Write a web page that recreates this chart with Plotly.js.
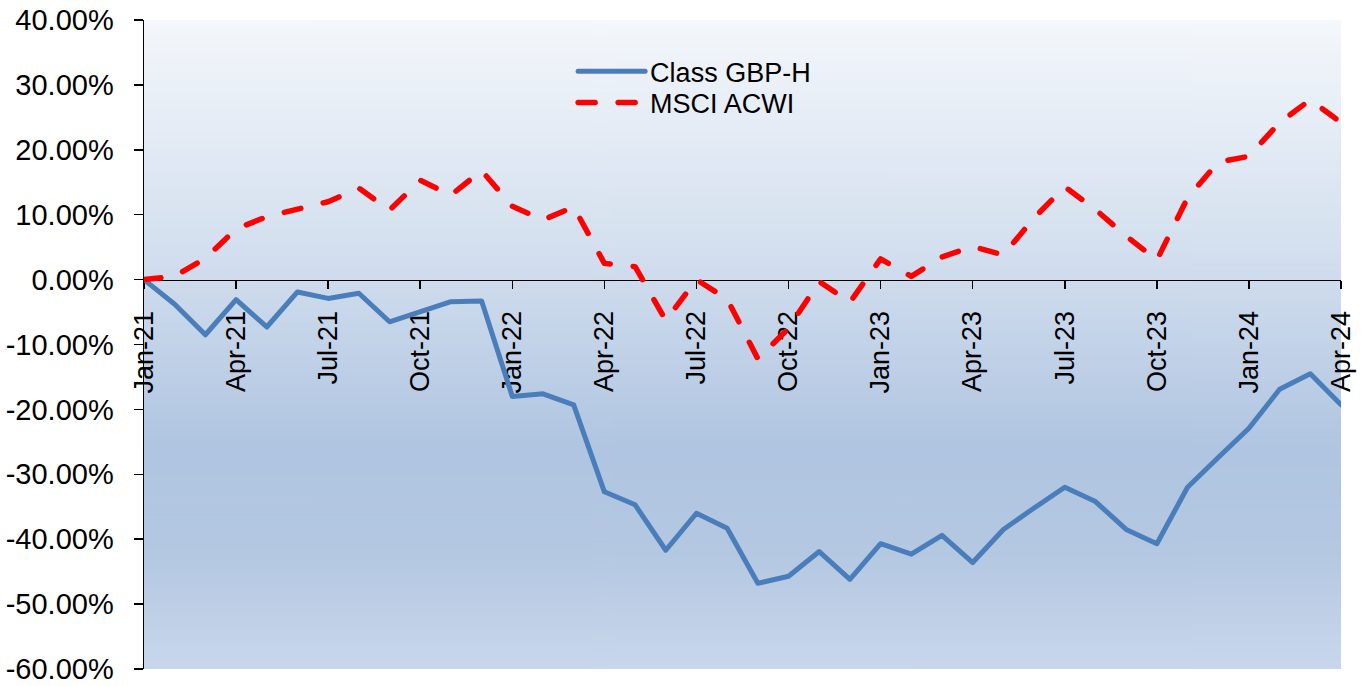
<!DOCTYPE html>
<html>
<head>
<meta charset="utf-8">
<script src="https://cdn.plot.ly/plotly-3.0.1.min.js"></script>
<style>
  html, body { margin: 0; padding: 0; background: #ffffff; }
  #chart { width: 1371px; height: 686px; }
  /* rounded dash ends, as in the original spreadsheet chart */
  #chart .js-line { stroke-linecap: round; stroke-linejoin: round; }
</style>
</head>
<body>
<div id="chart"></div>
<script>
// Monthly cumulative performance, Jan-21 to Apr-24 (percent)
const months = [
  'Jan-21','Feb-21','Mar-21','Apr-21','May-21','Jun-21','Jul-21','Aug-21','Sep-21','Oct-21','Nov-21','Dec-21',
  'Jan-22','Feb-22','Mar-22','Apr-22','May-22','Jun-22','Jul-22','Aug-22','Sep-22','Oct-22','Nov-22','Dec-22',
  'Jan-23','Feb-23','Mar-23','Apr-23','May-23','Jun-23','Jul-23','Aug-23','Sep-23','Oct-23','Nov-23','Dec-23',
  'Jan-24','Feb-24','Mar-24','Apr-24'
];

const classGbpH = [
  0, -3.8, -8.5, -3.1, -7.3, -1.9, -2.9, -2.1, -6.5, -4.9, -3.4, -3.3,
  -18.0, -17.6, -19.3, -32.7, -34.7, -41.7, -36.0, -38.3, -46.8, -45.7, -41.9, -46.2,
  -40.7, -42.3, -39.4, -43.6, -38.5, -35.2, -32.0, -34.2, -38.5, -40.7, -32.0, -27.4,
  -22.9, -16.9, -14.5, -19.3
];

const msciAcwi = [
  0, 0.5, 3.3, 7.8, 9.7, 10.9, 12.0, 14.1, 10.7, 15.3, 13.0, 16.8,
  11.3, 9.2, 11.2, 2.5, 2.0, -6.3, 0.0, -3.0, -12.2, -7.5, -0.3, -3.5,
  3.2, 0.5, 3.5, 5.1, 3.8, 9.5, 14.3, 10.8, 6.7, 3.0, 12.6, 18.1,
  19.0, 24.2, 27.7, 24.2
];

// month positions on the time axis, with quarterly labels
const monthIndex = months.map((m, i) => i);
const quarterVals = monthIndex.filter(i => i % 3 === 0);
const quarterTicks = quarterVals.map(i => months[i]);

// value axis ticks (plain hyphen for negatives)
const yTickVals = [-60, -50, -40, -30, -20, -10, 0, 10, 20, 30, 40];
const yTickText = ['-60.00%', '-50.00%', '-40.00%', '-30.00%', '-20.00%', '-10.00%',
                   '0.00%', '10.00%', '20.00%', '30.00%', '40.00%'];

const seriesNames = ['Class GBP-H', 'MSCI ACWI'];

// vertical gradient for the plot area
function gradientImage() {
  const c = document.createElement('canvas');
  c.width = 4; c.height = 400;
  const g = c.getContext('2d');
  const grad = g.createLinearGradient(0, 0, 0, 400);
  grad.addColorStop(0.00, '#f4f7fb');
  grad.addColorStop(0.35, '#d4e0ef');
  grad.addColorStop(0.66, '#b0c5e1');
  grad.addColorStop(0.82, '#b4c8e2');
  grad.addColorStop(1.00, '#c8d7eb');
  g.fillStyle = grad;
  g.fillRect(0, 0, 4, 400);
  return c.toDataURL('image/png');
}

const font = 'Liberation Sans, Arial, sans-serif';
const legendSample = 67;

const traces = [
  {
    x: monthIndex, y: classGbpH, name: seriesNames[0],
    text: months, hoverinfo: 'text+y',
    type: 'scatter', mode: 'lines',
    line: { color: '#4a7ebb', width: 5 },
    legend: 'legend'
  },
  {
    x: monthIndex, y: msciAcwi, name: seriesNames[1],
    text: months, hoverinfo: 'text+y',
    type: 'scatter', mode: 'lines',
    line: { color: '#ff0000', width: 5.5, dash: '17px,23px' },
    legend: 'legend2'
  }
];

const legendBase = {
  xanchor: 'left', yanchor: 'top',
  bgcolor: 'rgba(0,0,0,0)',
  font: { family: font, size: 27, color: '#000000' },
  itemwidth: legendSample
};

const layout = {
  width: 1371, height: 686,
  margin: { l: 144, r: 30, t: 20, b: 17, pad: 0 },
  paper_bgcolor: '#ffffff',
  plot_bgcolor: 'rgba(0,0,0,0)',
  font: { family: font, color: '#000000', size: 27 },
  showlegend: true,
  legend: Object.assign({ x: 0.3585, y: 0.958 }, legendBase),
  legend2: Object.assign({ x: 0.3585, y: 0.910 }, legendBase),
  images: [{
    source: gradientImage(),
    xref: 'paper', yref: 'paper',
    x: 0, y: 1, sizex: 1, sizey: 1,
    xanchor: 'left', yanchor: 'top',
    sizing: 'stretch', layer: 'below'
  }],
  xaxis: {
    type: 'linear',
    range: [0, months.length - 1],
    anchor: 'free', position: 0.6,
    showline: true, linecolor: '#000000', linewidth: 1.5,
    // long invisible major ticks set the label offset; visible short ticks come from minor
    ticks: 'outside', ticklen: 19, tickwidth: 1, tickcolor: 'rgba(0,0,0,0)',
    tickmode: 'array', tickvals: quarterVals, ticktext: quarterTicks,
    tickangle: -90,
    tickfont: { family: font, size: 27, color: '#000000' },
    minor: {
      tickmode: 'array', tickvals: quarterVals,
      ticks: 'outside', ticklen: 8, tickwidth: 1.5, tickcolor: '#000000',
      showgrid: false
    },
    showgrid: false, zeroline: false,
    layer: 'below traces'
  },
  yaxis: {
    range: [-60, 40],
    tickmode: 'array', tickvals: yTickVals, ticktext: yTickText,
    showline: true, linecolor: '#000000', linewidth: 1.5,
    ticks: 'outside', ticklen: 9, tickwidth: 1.5, tickcolor: '#000000',
    ticklabelstandoff: 14,
    tickfont: { family: font, size: 29, color: '#000000' },
    showgrid: false, zeroline: false,
    layer: 'below traces'
  }
};

Plotly.newPlot('chart', traces, layout, { staticPlot: true, displayModeBar: false })
  .then(gd => {
    // stretch the legend line samples across the item width
    gd.querySelectorAll('.legendlines path').forEach(p => {
      p.setAttribute('d', 'M5,0h' + legendSample);
    });
  });
</script>
</body>
</html>
